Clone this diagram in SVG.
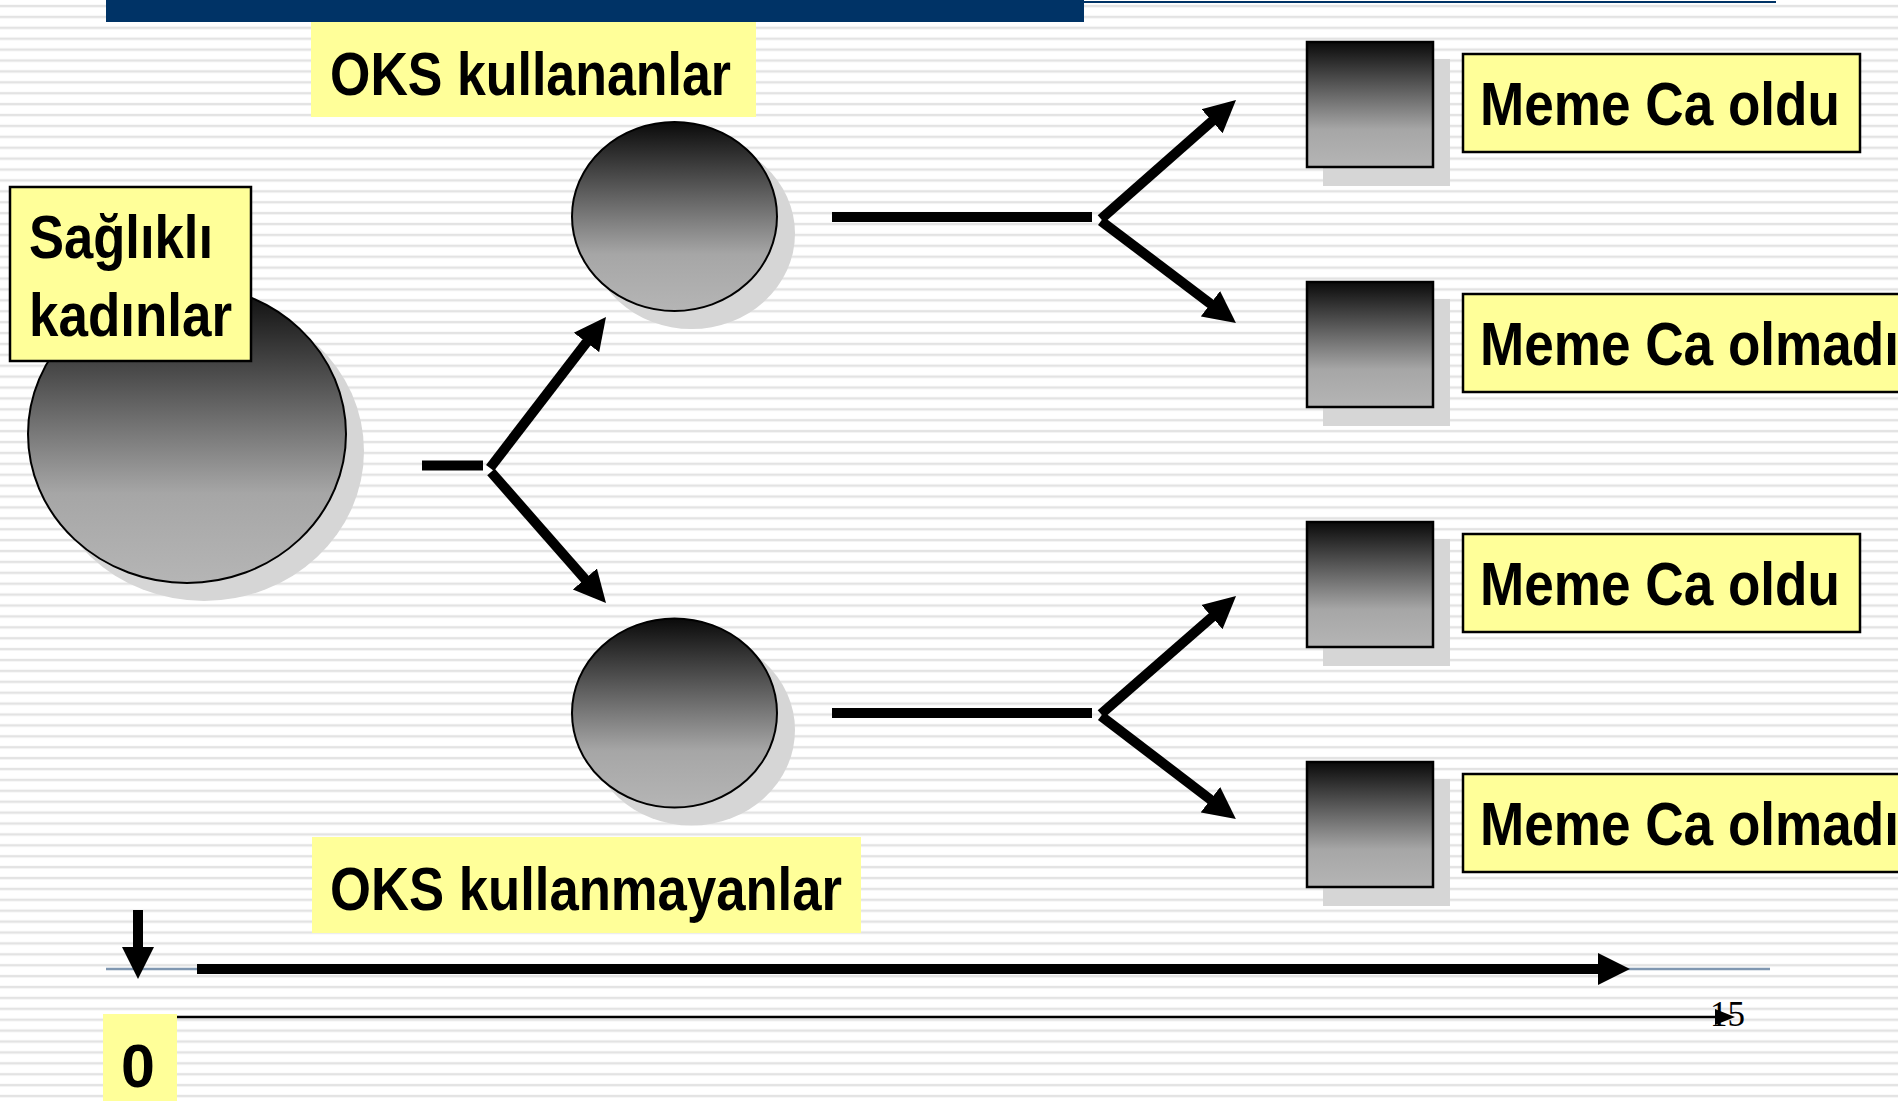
<svg xmlns="http://www.w3.org/2000/svg" width="1898" height="1101" viewBox="0 0 1898 1101">
<style>
.lbl{font-family:"Liberation Sans",Arial,sans-serif;font-weight:bold;font-size:61px;fill:#000}
.box{fill:#ffff99}
.bbox{fill:#ffff99;stroke:#000;stroke-width:2.5}
.shadow{fill:#d6d6d6}
.ball{fill:url(#shade);stroke:#000;stroke-width:2}
.sq{fill:url(#shade);stroke:#000;stroke-width:2.5}
.conn{fill:none;stroke:#000;stroke-width:10}
</style>
<defs>
<pattern id="stripes" patternUnits="userSpaceOnUse" x="0" y="0" width="20" height="10.9">
<rect x="0" y="4.8" width="20" height="2.5" fill="#e3e3e3"/>
</pattern>
<linearGradient id="shade" x1="0" y1="0" x2="0" y2="1">
<stop offset="0" stop-color="#0a0a0a"/>
<stop offset="0.7" stop-color="#a6a6a6"/>
<stop offset="1" stop-color="#b5b5b5"/>
</linearGradient>
<marker id="ah" markerUnits="userSpaceOnUse" markerWidth="34" markerHeight="34" refX="12" refY="17" orient="auto">
<path d="M0,1 L32,17 L0,33 z" fill="#000"/>
</marker>
<marker id="ahs" markerUnits="userSpaceOnUse" markerWidth="22" markerHeight="18" refX="6" refY="9" orient="auto">
<path d="M0,1 L20,9 L0,17 z" fill="#000"/>
</marker>
</defs>
<rect width="1898" height="1101" fill="#ffffff"/>
<rect width="1898" height="1101" fill="url(#stripes)"/>
<g id="title-bar">
<rect x="106" y="0" width="978" height="22" fill="#003366"/>
<line x1="1084" y1="2" x2="1776" y2="2" stroke="#003366" stroke-width="2"/>
</g>
<g id="timeline">
<line x1="106" y1="969" x2="1770" y2="969" stroke="#8097b1" stroke-width="2.5"/>
<line x1="177" y1="1017" x2="1721" y2="1017" stroke="#000" stroke-width="2.5" marker-end="url(#ahs)"/>
<line x1="197" y1="969" x2="1610" y2="969" class="conn" marker-end="url(#ah)"/>
<line x1="138" y1="910" x2="138" y2="959" class="conn" marker-end="url(#ah)"/>
<text x="1710" y="1026" font-family="'Liberation Serif','Times New Roman',serif" font-size="35" fill="#000">15</text>
</g>
<g id="n-zero">
<rect class="box" x="103" y="1014" width="74" height="87"/>
<text class="lbl" x="121" y="1087" font-size="62">0</text>
</g>
<g id="n-healthy">
<ellipse class="shadow" cx="204" cy="451" rx="160" ry="150"/>
<ellipse class="ball" cx="187" cy="434" rx="159" ry="149"/>
<rect class="bbox" x="10" y="187" width="241" height="174"/>
<text class="lbl" x="29" y="258" textLength="184" lengthAdjust="spacingAndGlyphs">Sağlıklı</text>
<text class="lbl" x="29" y="336" textLength="203" lengthAdjust="spacingAndGlyphs">kadınlar</text>
</g>
<g id="n-users">
<ellipse class="shadow" cx="691.5" cy="233.5" rx="103.5" ry="95.5"/>
<ellipse class="ball" cx="674.5" cy="216.5" rx="102.5" ry="94.5"/>
<rect class="box" x="311" y="22" width="445" height="95"/>
<text class="lbl" x="330" y="95" textLength="401" lengthAdjust="spacingAndGlyphs">OKS kullananlar</text>
</g>
<g id="n-nonusers">
<ellipse class="shadow" cx="691.5" cy="730" rx="103.5" ry="95.5"/>
<ellipse class="ball" cx="674.5" cy="713" rx="102.5" ry="94.5"/>
<rect class="box" x="312" y="837" width="549" height="96"/>
<text class="lbl" x="330" y="910" textLength="512" lengthAdjust="spacingAndGlyphs">OKS kullanmayanlar</text>
</g>
<g id="n-outcome1">
<rect class="shadow" x="1323" y="59" width="127" height="127"/>
<rect class="sq" x="1307" y="42" width="126" height="125"/>
<rect class="bbox" x="1463" y="54" width="397" height="98"/>
<text class="lbl" x="1480" y="125" textLength="360" lengthAdjust="spacingAndGlyphs">Meme Ca oldu</text>
</g>
<g id="n-outcome2">
<rect class="shadow" x="1323" y="299" width="127" height="127"/>
<rect class="sq" x="1307" y="282" width="126" height="125"/>
<rect class="bbox" x="1463" y="294" width="500" height="98"/>
<text class="lbl" x="1480" y="365" textLength="419" lengthAdjust="spacingAndGlyphs">Meme Ca olmadı</text>
</g>
<g id="n-outcome3">
<rect class="shadow" x="1323" y="539" width="127" height="127"/>
<rect class="sq" x="1307" y="522" width="126" height="125"/>
<rect class="bbox" x="1463" y="534" width="397" height="98"/>
<text class="lbl" x="1480" y="605" textLength="360" lengthAdjust="spacingAndGlyphs">Meme Ca oldu</text>
</g>
<g id="n-outcome4">
<rect class="shadow" x="1323" y="779" width="127" height="127"/>
<rect class="sq" x="1307" y="762" width="126" height="125"/>
<rect class="bbox" x="1463" y="774" width="500" height="98"/>
<text class="lbl" x="1480" y="845" textLength="419" lengthAdjust="spacingAndGlyphs">Meme Ca olmadı</text>
</g>
<g id="connectors">
<line class="conn" x1="422" y1="465.5" x2="483" y2="465.5"/>
<line class="conn" x1="490" y1="468" x2="593.8" y2="332.9" marker-end="url(#ah)"/>
<line class="conn" x1="491" y1="472" x2="592.8" y2="588" marker-end="url(#ah)"/>
<line class="conn" x1="832" y1="217" x2="1092" y2="217"/>
<line class="conn" x1="1101" y1="219" x2="1221" y2="113.2" marker-end="url(#ah)"/>
<line class="conn" x1="1101" y1="221" x2="1220" y2="310.9" marker-end="url(#ah)"/>
<line class="conn" x1="832" y1="713" x2="1092" y2="713"/>
<line class="conn" x1="1101" y1="714" x2="1221" y2="609.2" marker-end="url(#ah)"/>
<line class="conn" x1="1101" y1="716" x2="1220" y2="806.9" marker-end="url(#ah)"/>
</g>
</svg>
